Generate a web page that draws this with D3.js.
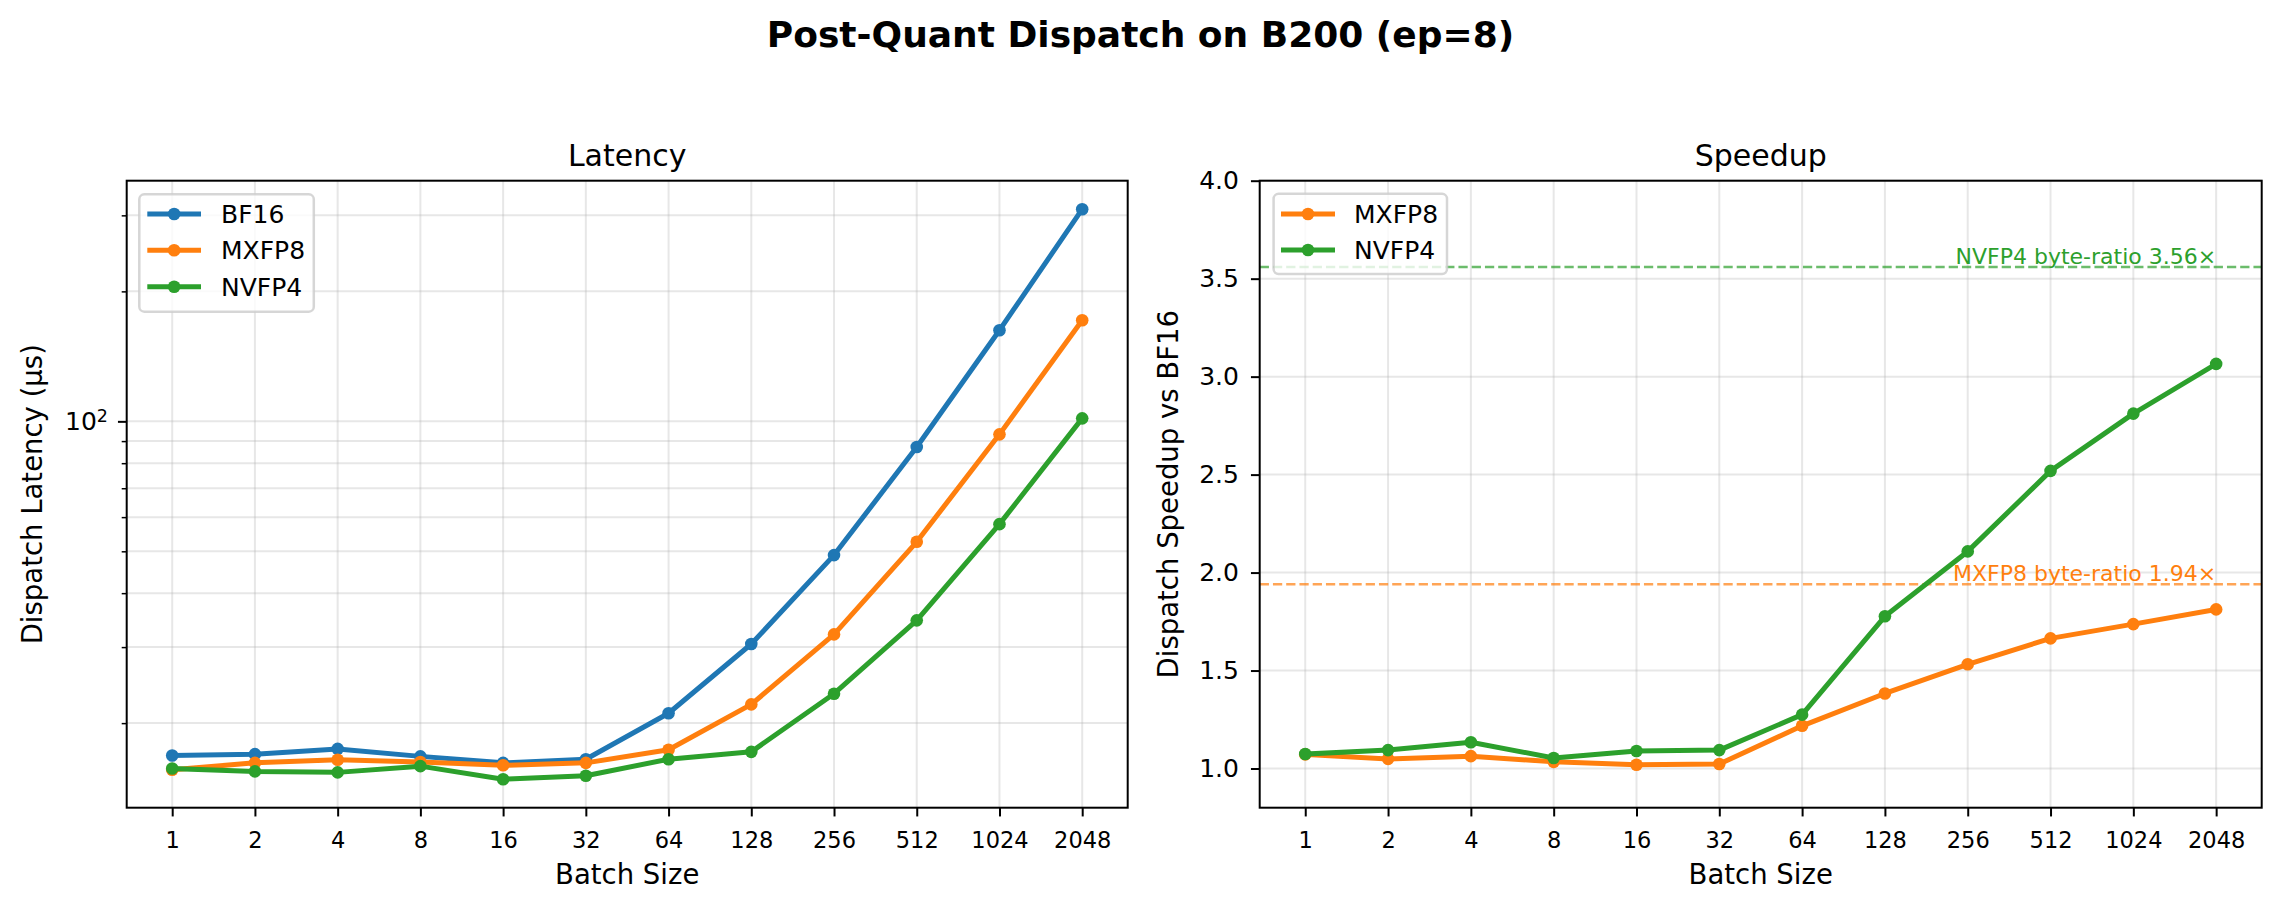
<!DOCTYPE html>
<html><head><meta charset="utf-8">
<script src="https://cdn.jsdelivr.net/npm/d3@7"></script>
<style>body{margin:0;background:#fff} text{font-family:"DejaVu Sans",sans-serif}</style>
</head><body><svg id="c" width="2281" height="911"></svg>
<script>
// ---------- data ----------
const batchSizes = ["1","2","4","8","16","32","64","128","256","512","1024","2048"];
const latBF16  = [16.83,16.95,17.43,16.75,16.18,16.49,21.08,30.5,49.0,87.2,162.5,310.0];
const latMXFP8 = [15.6,16.18,16.45,16.26,15.97,16.18,17.35,22.1,32.1,52.6,93.3,171.4];
const latNVFP4 = [15.7,15.46,15.38,15.9,14.83,15.1,16.5,17.16,23.4,34.6,57.8,101.6];
const spMXFP8  = [1.072,1.049,1.063,1.034,1.019,1.023,1.218,1.383,1.532,1.664,1.737,1.812];
const spNVFP4  = [1.074,1.094,1.134,1.054,1.089,1.094,1.275,1.777,2.108,2.519,2.811,3.065];
const byteRatioNames  = ["MXFP8","NVFP4"];
const byteRatioValues = [1.94,3.56];
const speedTicks = [1.0,1.5,2.0,2.5,3.0,3.5,4.0];
const speedDomain = [0.8,4.0];
const latMajorTicks = [100];
const latMinorTicks = [20,30,40,50,60,70,80,90,200,300];
const seriesColors = {BF16:"#1f77b4", MXFP8:"#ff7f0e", NVFP4:"#2ca02c"};

// ---------- layout ----------
const W = 2281, H = 911;
const yTop = 180.7, yBot = 807.7;
const L = {x0:126.7, x1:1127.7};
const R = {x0:1259.7, x1:2261.7};
const PT = 2.5; // px per point
const MR = 6.3; // marker radius
const svg = d3.select("#c");

const n = batchSizes.length;
const idx = d3.range(n);
const xL = d3.scaleLinear().domain([-0.55, n-1+0.55]).range([L.x0, L.x1]);
const xR = d3.scaleLinear().domain([-0.55, n-1+0.55]).range([R.x0, R.x1]);

const allLat = latBF16.concat(latMXFP8, latNVFP4);
const lo = Math.log10(d3.min(allLat)), hi = Math.log10(d3.max(allLat));
const mg = (hi-lo)*0.05;
const yL = d3.scaleLog().domain([Math.pow(10,lo-mg), Math.pow(10,hi+mg)]).range([yBot, yTop]);
const yR = d3.scaleLinear().domain(speedDomain).range([yBot, yTop]);

// main title
svg.append("text").attr("x", W/2).attr("y", 47).attr("text-anchor","middle")
  .attr("font-size", 36).attr("font-weight","bold").text("Post-Quant Dispatch on B200 (ep=8)");

function gridStyle(sel){ sel.attr("stroke","#b0b0b0").attr("stroke-opacity",0.3).attr("stroke-width",2); }

function drawSeries(g, xs, ys, vals, color){
  const line = d3.line().x((d,i)=>xs(i)).y(d=>ys(d));
  g.append("path").datum(vals).attr("d", line).attr("fill","none")
    .attr("stroke", color).attr("stroke-width", 2*PT).attr("stroke-linejoin","round").attr("stroke-linecap","square");
  g.selectAll(null).data(vals).enter().append("circle")
    .attr("cx",(d,i)=>xs(i)).attr("cy",d=>ys(d)).attr("r",MR).attr("fill",color);
}
function styleAxis(g, fs){
  g.select(".domain").remove();
  g.selectAll(".tick line").attr("stroke","#000").attr("stroke-width",2);
  g.selectAll(".tick text").attr("font-size", fs).attr("fill","#000").style("font-family","DejaVu Sans");
}
function legend(g, x, y, w, h, names, lx0, lx1, tx, rows){
  g.append("rect").attr("x",x).attr("y",y).attr("width",w).attr("height",h).attr("rx",5)
    .attr("fill","#fff").attr("fill-opacity",0.8).attr("stroke","#cccccc").attr("stroke-opacity",0.8).attr("stroke-width",2.5);
  names.forEach((nm,i)=>{
    const cy = rows[i];
    g.append("line").attr("x1",lx0).attr("x2",lx1).attr("y1",cy).attr("y2",cy)
      .attr("stroke",seriesColors[nm]).attr("stroke-width",2*PT);
    g.append("circle").attr("cx",(lx0+lx1)/2).attr("cy",cy).attr("r",MR).attr("fill",seriesColors[nm]);
    g.append("text").attr("x",tx).attr("y",cy).attr("dy","0.36em").attr("font-size",25).text(nm);
  });
}

// ---------- LEFT: latency ----------
const gL = svg.append("g");
gL.selectAll(null).data(idx).enter().append("line")
  .attr("x1",d=>xL(d)).attr("x2",d=>xL(d)).attr("y1",yTop).attr("y2",yBot).call(gridStyle);
gL.selectAll(null).data(latMajorTicks.concat(latMinorTicks)).enter().append("line")
  .attr("x1",L.x0).attr("x2",L.x1).attr("y1",d=>yL(d)).attr("y2",d=>yL(d)).call(gridStyle);

drawSeries(gL, xL, yL, latBF16, seriesColors.BF16);
drawSeries(gL, xL, yL, latMXFP8, seriesColors.MXFP8);
drawSeries(gL, xL, yL, latNVFP4, seriesColors.NVFP4);

const axXL = gL.append("g").attr("transform",`translate(0,${yBot})`)
  .call(d3.axisBottom(xL).tickValues(idx).tickFormat(i=>batchSizes[i]).tickSize(3.5*PT).tickPadding(16).tickSizeOuter(0));
styleAxis(axXL, 22.5);
const axYL = gL.append("g").attr("transform",`translate(${L.x0},0)`)
  .call(d3.axisLeft(yL).tickValues(latMajorTicks).tickFormat(()=>"").tickSize(3.5*PT).tickPadding(10).tickSizeOuter(0));
styleAxis(axYL, 25);
axYL.selectAll(".tick text").each(function(d){
  const t = d3.select(this);
  const e = Math.round(Math.log10(d));
  t.append("tspan").text("10");
  t.append("tspan").attr("dy","-0.45em").attr("font-size",17.5).text(String(e));
});
const axYLm = gL.append("g").attr("transform",`translate(${L.x0},0)`)
  .call(d3.axisLeft(yL).tickValues(latMinorTicks).tickFormat(()=>"").tickSize(2*PT).tickSizeOuter(0));
axYLm.select(".domain").remove();
axYLm.selectAll(".tick line").attr("stroke","#000").attr("stroke-width",1.5);

gL.append("rect").attr("x",L.x0).attr("y",yTop).attr("width",L.x1-L.x0).attr("height",yBot-yTop)
  .attr("fill","none").attr("stroke","#000").attr("stroke-width",2);

gL.append("text").attr("x",(L.x0+L.x1)/2).attr("y",165.7).attr("text-anchor","middle").attr("font-size",30).text("Latency");
gL.append("text").attr("x",(L.x0+L.x1)/2).attr("y",884).attr("text-anchor","middle").attr("font-size",27.5).text("Batch Size");
gL.append("text").attr("transform",`translate(32,${(yTop+yBot)/2}) rotate(-90)`).attr("dy","0.35em")
  .attr("text-anchor","middle").attr("font-size",27.5).text("Dispatch Latency (µs)");

legend(gL, 139.3, 194.3, 174.5, 117.4, ["BF16","MXFP8","NVFP4"], 147.3, 201, 221, [214, 250.3, 286.7]);

// ---------- RIGHT: speedup ----------
const gR = svg.append("g");
gR.selectAll(null).data(idx).enter().append("line")
  .attr("x1",d=>xR(d)).attr("x2",d=>xR(d)).attr("y1",yTop).attr("y2",yBot).call(gridStyle);
gR.selectAll(null).data(speedTicks).enter().append("line")
  .attr("x1",R.x0).attr("x2",R.x1).attr("y1",d=>yR(d)).attr("y2",d=>yR(d)).call(gridStyle);

byteRatioNames.forEach((nm,i)=>{
  gR.append("line").attr("x1",R.x0).attr("x2",R.x1).attr("y1",yR(byteRatioValues[i])).attr("y2",yR(byteRatioValues[i]))
    .attr("stroke",seriesColors[nm]).attr("stroke-opacity",0.7).attr("stroke-width",2.5).attr("stroke-dasharray","9.25,4");
});

drawSeries(gR, xR, yR, spMXFP8, seriesColors.MXFP8);
drawSeries(gR, xR, yR, spNVFP4, seriesColors.NVFP4);

byteRatioNames.forEach((nm,i)=>{
  gR.append("text").attr("x",xR(n-1)).attr("y",yR(byteRatioValues[i])-3).attr("text-anchor","end")
    .attr("font-size",22).attr("fill",seriesColors[nm]).text(`${nm} byte-ratio ${byteRatioValues[i].toFixed(2)}×`);
});

const axXR = gR.append("g").attr("transform",`translate(0,${yBot})`)
  .call(d3.axisBottom(xR).tickValues(idx).tickFormat(i=>batchSizes[i]).tickSize(3.5*PT).tickPadding(16).tickSizeOuter(0));
styleAxis(axXR, 22.5);
const axYR = gR.append("g").attr("transform",`translate(${R.x0},0)`)
  .call(d3.axisLeft(yR).tickValues(speedTicks).tickFormat(d3.format(".1f")).tickSize(3.5*PT).tickPadding(12).tickSizeOuter(0));
styleAxis(axYR, 25);

gR.append("rect").attr("x",R.x0).attr("y",yTop).attr("width",R.x1-R.x0).attr("height",yBot-yTop)
  .attr("fill","none").attr("stroke","#000").attr("stroke-width",2);

gR.append("text").attr("x",(R.x0+R.x1)/2).attr("y",165.7).attr("text-anchor","middle").attr("font-size",30).text("Speedup");
gR.append("text").attr("x",(R.x0+R.x1)/2).attr("y",884).attr("text-anchor","middle").attr("font-size",27.5).text("Batch Size");
gR.append("text").attr("transform",`translate(1168,${(yTop+yBot)/2}) rotate(-90)`).attr("dy","0.35em")
  .attr("text-anchor","middle").attr("font-size",27.5).text("Dispatch Speedup vs BF16");

legend(gR, 1273.6, 193.8, 173.4, 80.2, ["MXFP8","NVFP4"], 1281, 1335, 1354, [214, 250]);
</script></body></html>
